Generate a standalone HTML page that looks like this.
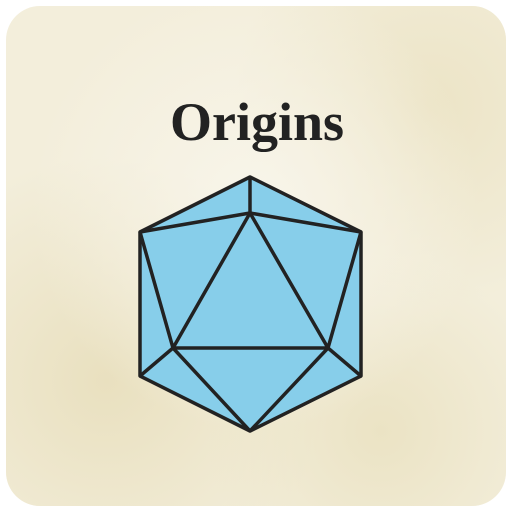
<!DOCTYPE html>
<html><head><meta charset="utf-8"><style>
html,body{margin:0;padding:0;background:#fff;width:512px;height:512px;overflow:hidden}
</style></head><body>
<svg width="512" height="512" viewBox="0 0 512 512">
<defs>
<radialGradient id="p1" cx="0.2" cy="0.75" r="0.45"><stop offset="0" stop-color="#e9e0bf"/><stop offset="1" stop-color="#e9e0bf" stop-opacity="0"/></radialGradient>
<radialGradient id="p2" cx="0.85" cy="0.2" r="0.4"><stop offset="0" stop-color="#ece4c6"/><stop offset="1" stop-color="#ece4c6" stop-opacity="0"/></radialGradient>
<radialGradient id="p3" cx="0.5" cy="0.4" r="0.45"><stop offset="0" stop-color="#f8f5ea"/><stop offset="1" stop-color="#f8f5ea" stop-opacity="0"/></radialGradient>
<radialGradient id="p4" cx="0.75" cy="0.85" r="0.35"><stop offset="0" stop-color="#ebe3c4"/><stop offset="1" stop-color="#ebe3c4" stop-opacity="0"/></radialGradient>
<clipPath id="c"><rect x="6" y="6" width="500" height="500" rx="34"/></clipPath>
</defs>
<g clip-path="url(#c)">
<rect x="6" y="6" width="500" height="500" fill="#f3eedb"/>
<rect x="6" y="6" width="500" height="500" fill="url(#p1)"/>
<rect x="6" y="6" width="500" height="500" fill="url(#p2)"/>
<rect x="6" y="6" width="500" height="500" fill="url(#p4)"/>
<rect x="6" y="6" width="500" height="500" fill="url(#p3)"/>
</g>
<text x="257" y="140" text-anchor="middle" font-family="'Liberation Serif',serif" font-weight="bold" font-size="54" fill="#222">Origins</text>
<g stroke="#222" stroke-width="3.5" stroke-linejoin="round" fill="none">
<polygon points="250,177 361,232 361,376 250,431 140,376 140,232" fill="#87ceea"/>
<polygon points="250,213 328,348 173,348"/>
<line x1="250" y1="177" x2="250" y2="213"/>
<line x1="140" y1="232" x2="250" y2="213"/>
<line x1="361" y1="232" x2="250" y2="213"/>
<line x1="140" y1="232" x2="173" y2="348"/>
<line x1="361" y1="232" x2="328" y2="348"/>
<line x1="140" y1="376" x2="173" y2="348"/>
<line x1="361" y1="376" x2="328" y2="348"/>
<line x1="250" y1="431" x2="173" y2="348"/>
<line x1="250" y1="431" x2="328" y2="348"/>
</g>
</svg>
</body></html>
